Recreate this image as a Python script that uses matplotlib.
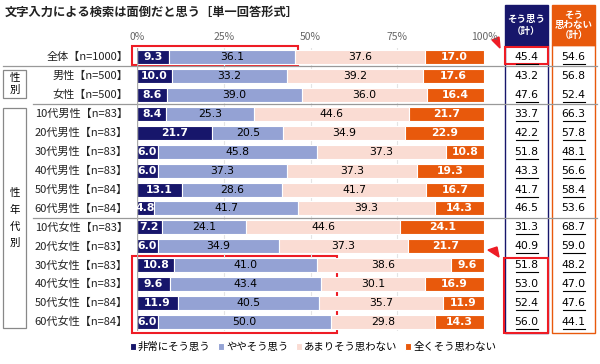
import numpy as np
import matplotlib.pyplot as plt
from matplotlib.patches import Rectangle, Polygon
from matplotlib.transforms import blended_transform_factory

plt.rcParams['font.family'] = ['Noto Sans CJK JP', 'DejaVu Sans']

title = '文字入力による検索は面倒だと思う［単一回答形式］'
labels = ['全体【n=1000】', '男性【n=500】', '女性【n=500】',
          '10代男性【n=83】', '20代男性【n=83】', '30代男性【n=83】', '40代男性【n=83】',
          '50代男性【n=84】', '60代男性【n=84】',
          '10代女性【n=83】', '20代女性【n=83】', '30代女性【n=83】', '40代女性【n=83】',
          '50代女性【n=84】', '60代女性【n=84】']
very = [9.3, 10.0, 8.6, 8.4, 21.7, 6.0, 6.0, 13.1, 4.8, 7.2, 6.0, 10.8, 9.6, 11.9, 6.0]
some = [36.1, 33.2, 39.0, 25.3, 20.5, 45.8, 37.3, 28.6, 41.7, 24.1, 34.9, 41.0, 43.4, 40.5, 50.0]
notmuch = [37.6, 39.2, 36.0, 44.6, 34.9, 37.3, 37.3, 41.7, 39.3, 44.6, 37.3, 38.6, 30.1, 35.7, 29.8]
never = [17.0, 17.6, 16.4, 21.7, 22.9, 10.8, 19.3, 16.7, 14.3, 24.1, 21.7, 9.6, 16.9, 11.9, 14.3]
agree_total = [45.4, 43.2, 47.6, 33.7, 42.2, 51.8, 43.3, 41.7, 46.5, 31.3, 40.9, 51.8, 53.0, 52.4, 56.0]
disagree_total = [54.6, 56.8, 52.4, 66.3, 57.8, 48.1, 56.6, 58.4, 53.6, 68.7, 59.0, 48.2, 47.0, 47.6, 44.1]
underlined = [True, False, True, True, True, True, True, True, False,
              True, True, True, True, True, True]
series_names = ['非常にそう思う', 'ややそう思う', 'あまりそう思わない', '全くそう思わない']
ticks = [0, 25, 50, 75, 100]

NAVY = '#17166b'
BLUE = '#94a2d4'
PINK = '#fadcd3'
ORANGE = '#e8590c'
RED = '#ee1c25'
colors = [NAVY, BLUE, PINK, ORANGE]
text_colors = ['white', 'black', 'black', 'white']
weights = ['bold', 'normal', 'normal', 'bold']

W, H = 600, 364
fig = plt.figure(figsize=(W / 100, H / 100), dpi=100)

# background axes in pixel coords for boxes and decorations
bg = fig.add_axes([0, 0, 1, 1])
bg.set_xlim(0, W)
bg.set_ylim(H, 0)
bg.axis('off')

# bar axes: 0% at x=137, 100% at x=484; row 0 at y=57, row spacing ~18.93
n = len(labels)
step = 18.93
top_px = 57 - 0.5 * step
bot_px = 57 + (n - 0.5) * step
x0, x1 = 137, 484
ax = fig.add_axes([x0 / W, 1 - bot_px / H, (x1 - x0) / W, (bot_px - top_px) / H])
ax.set_xlim(0, 100)
ax.set_ylim(n - 0.5, -0.5)
ax.axis('off')

y = np.arange(n)
for g in [25, 50, 75]:
    ax.axvline(g, color='#e4e4e4', lw=0.8, zorder=0)
ax.axvline(0, color='#aaaaaa', lw=1, zorder=3)

data = [very, some, notmuch, never]
left = np.zeros(n)
handles = []
for k, vals in enumerate(data):
    vals = np.array(vals)
    h = ax.barh(y, vals, left=left, height=0.74, color=colors[k],
                edgecolor='white', linewidth=0.8, zorder=2, label=series_names[k])
    handles.append(h)
    for i in range(n):
        ax.text(left[i] + vals[i] / 2, y[i], f'{vals[i]:.1f}', ha='center', va='center',
                fontsize=7.8, color=text_colors[k], fontweight=weights[k], zorder=4,
                family=['DejaVu Sans'])
    left += vals

# tick labels along the top, at y=37px
tick_tr = blended_transform_factory(ax.transData, bg.transData)
for t in ticks:
    ax.text(t, 37, f'{t}%', transform=tick_tr, ha='center', va='center',
            fontsize=7.5, color='#666666')

tr = blended_transform_factory(bg.transData, ax.transData)
for i in range(n):
    ax.text(128, y[i], labels[i], transform=tr, ha='right', va='center',
            fontsize=8, color='#222222')
    for xc, val in [(526.5, agree_total[i]), (573.5, disagree_total[i])]:
        ax.text(xc, y[i], f'{val:.1f}', transform=tr, ha='center', va='center',
                fontsize=7.8, color='black', family=['DejaVu Sans'])
        if underlined[i]:
            ax.plot([xc - 11, xc + 11], [y[i] + 0.37, y[i] + 0.37], transform=tr,
                    color='black', lw=0.8, clip_on=False)

# separators
for yy, xs in [(0.5, 3), (2.5, 33), (8.5, 33)]:
    ax.plot([xs, 597], [yy, yy], transform=tr, color='#999999', lw=0.9, clip_on=False)

# group boxes
bg.add_patch(Rectangle((3, 70), 23, 28, fill=False, ec='#888888', lw=0.9))
bg.text(14.5, 84, '性\n別', ha='center', va='center', fontsize=7.5, linespacing=1.3)
bg.add_patch(Rectangle((3, 108), 23, 220, fill=False, ec='#888888', lw=0.9))
bg.text(14.5, 218, '性\n年\n代\n別', ha='center', va='center', fontsize=7.5, linespacing=1.85)

# right-hand total columns
bg.add_patch(Rectangle((505, 5), 43, 40, fc=NAVY, ec=NAVY, lw=1))
bg.add_patch(Rectangle((505, 45), 43, 288, fill=False, ec=NAVY, lw=1))
bg.text(526.5, 25, 'そう思う\n（計）', ha='center', va='center', fontsize=6.8,
        color='white', fontweight='bold', linespacing=1.2)
bg.add_patch(Rectangle((552, 5), 43, 40, fc=ORANGE, ec=ORANGE, lw=1))
bg.add_patch(Rectangle((552, 45), 43, 288, fill=False, ec=ORANGE, lw=1))
bg.text(573.5, 25, 'そう\n思わない\n（計）', ha='center', va='center', fontsize=6.8,
        color='white', fontweight='bold', linespacing=1.05)

# red highlights
for (rx, ry, rw, rh) in [(132, 46, 166, 19), (505, 47, 43, 17),
                         (132, 256, 205, 77), (504, 258, 44, 75)]:
    bg.add_patch(Rectangle((rx, ry), rw, rh, fill=False, ec=RED, lw=1.5, zorder=5))
bg.add_patch(Polygon([(492, 40), (499, 37), (500, 48)], closed=True, fc=RED, ec=RED))
bg.add_patch(Polygon([(488, 250), (497, 247), (499, 257)], closed=True, fc=RED, ec=RED))

bg.text(5, 12, title, ha='left', va='center', fontsize=8.8, fontweight='bold', color='#222222')

fig.legend(handles=handles, labels=series_names, loc='center',
           bbox_to_anchor=(313 / W, 1 - 347 / H), ncol=4, frameon=False,
           fontsize=7.5, handlelength=0.6, handleheight=0.6, handletextpad=0.2,
           columnspacing=0.7, borderaxespad=0)

fig.savefig('out.png', dpi=100)
